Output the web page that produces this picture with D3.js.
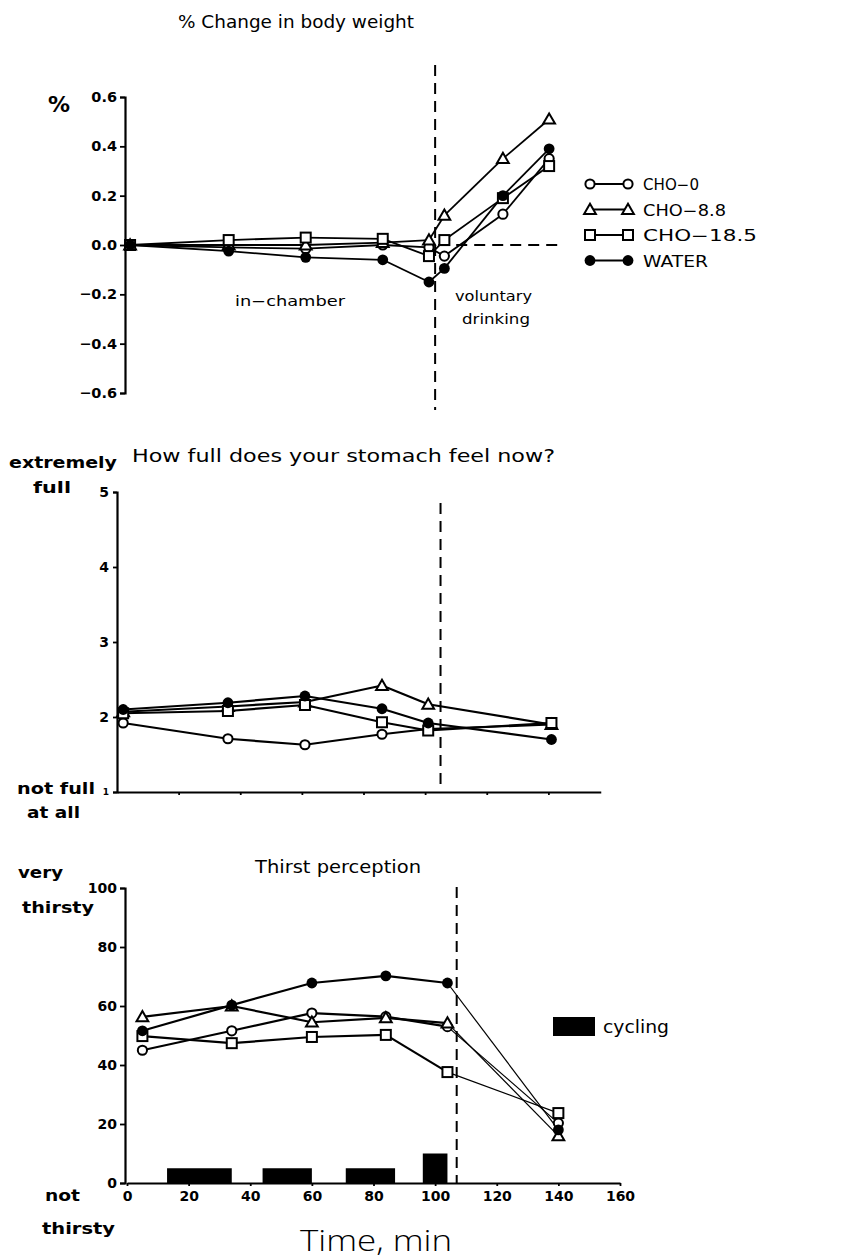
<!DOCTYPE html>
<html>
<head>
<meta charset="utf-8">
<script src="https://cdn.jsdelivr.net/npm/d3@7"></script>
<style>
  html, body { margin: 0; padding: 0; background: #fff; }
  svg { display: block; }
  text { fill: #000; font-family: "DejaVu Sans", sans-serif; }
  .tick text { font-family: "DejaVu Sans", sans-serif; font-weight: bold; }
</style>
</head>
<body>
<script>
// ---- data ----------------------------------------------------------
const seriesNames = ["CHO-0", "CHO-8.8", "CHO-18.5", "WATER"];
const seriesMarks = ["circle", "triangle", "square", "dot"];

// % change in body weight
const weightTimes = [1, 33, 58, 83, 98, 103, 122, 137];
const weightCHO0   = [0, -0.01, -0.015, 0.0, -0.01, -0.045, 0.125, 0.35];
const weightCHO88  = [0, 0.0, 0.0, 0.01, 0.02, 0.12, 0.35, 0.51];
const weightCHO185 = [0, 0.02, 0.03, 0.025, -0.045, 0.02, 0.19, 0.32];
const weightWATER  = [0, -0.025, -0.05, -0.06, -0.15, -0.095, 0.2, 0.39];
const weightTicks  = [-0.6, -0.4, -0.2, 0.0, 0.2, 0.4, 0.6];

// stomach fullness rating (1 = not full at all, 5 = extremely full)
const fullTimes = [2, 36, 61, 86, 101, 141];
const fullCHO0   = [1.92, 1.71, 1.63, 1.77, 1.84, 1.90];
const fullCHO88  = [2.07, 2.14, 2.20, 2.42, 2.17, 1.90];
const fullCHO185 = [2.05, 2.08, 2.16, 1.93, 1.82, 1.92];
const fullWATER  = [2.10, 2.19, 2.28, 2.11, 1.92, 1.70];
const fullTicks  = [1, 2, 3, 4, 5];

// thirst perception (0 = not thirsty, 100 = very thirsty)
const thirstTimes = [5, 34, 60, 84, 104, 140];
const thirstCHO0   = [45, 51.6, 57.6, 56.4, 53, 20.3];
const thirstCHO88  = [56.3, 60, 54.5, 56, 54.2, 16];
const thirstCHO185 = [49.8, 47.4, 49.5, 50.2, 37.6, 23.7];
const thirstWATER  = [51.6, 60.3, 67.8, 70.2, 67.8, 18];
const thirstTicks  = [0, 20, 40, 60, 80, 100];
const timeTicks    = [0, 20, 40, 60, 80, 100, 120, 140, 160];

// cycling bouts: start, end (min), bar height (thirst units)
const cycleStart  = [13, 44, 71, 96];
const cycleEnd    = [34, 60, 87, 104];
const cycleHeight = [5, 5, 5, 10];

// drinking onset (min), drawn as a dashed divider in each panel
const drinkWeight = 100;
const drinkFull   = 105;
const drinkThirst = 107;

// ---- drawing -------------------------------------------------------
const W = 852, H = 1259;
const svg = d3.select("body").append("svg")
  .attr("width", W).attr("height", H)
  .attr("viewBox", `0 0 ${W} ${H}`);
svg.append("rect").attr("width", W).attr("height", H).attr("fill", "#fff");

function drawMarker(g, type, x, y) {
  if (type === "circle") {
    g.append("circle").attr("cx", x).attr("cy", y).attr("r", 4.6)
      .attr("fill", "#fff").attr("stroke", "#000").attr("stroke-width", 2);
  } else if (type === "dot") {
    g.append("circle").attr("cx", x).attr("cy", y).attr("r", 5.4)
      .attr("fill", "#000");
  } else if (type === "square") {
    g.append("rect").attr("x", x - 5).attr("y", y - 5)
      .attr("width", 10).attr("height", 10)
      .attr("fill", "#fff").attr("stroke", "#000").attr("stroke-width", 2);
  } else {
    g.append("path")
      .attr("d", d3.symbol(d3.symbolTriangle, 60)())
      .attr("transform", `translate(${x},${y + 1})`)
      .attr("fill", "#fff").attr("stroke", "#000").attr("stroke-width", 2);
  }
}

function drawSeries(g, xs, ys, times, values, type, widths) {
  const pts = times.map((t, i) => [xs(t), ys(values[i])]);
  for (let i = 0; i < pts.length - 1; i++) {
    g.append("path")
      .attr("d", d3.line()([pts[i], pts[i + 1]]))
      .attr("fill", "none").attr("stroke", "#000")
      .attr("stroke-width", widths(i));
  }
  return pts;
}

function styleAxis(size) {
  return sel => {
    sel.selectAll("path.domain").attr("stroke", "#000").attr("stroke-width", 2.2);
    sel.selectAll(".tick line").attr("stroke", "#000").attr("stroke-width", 1.8);
    sel.selectAll(".tick text").attr("font-size", size).attr("fill", "#000");
  };
}

function dashed(x1, y1, x2, y2) {
  svg.append("line").attr("x1", x1).attr("y1", y1).attr("x2", x2).attr("y2", y2)
    .attr("stroke", "#000").attr("stroke-width", 2)
    .attr("stroke-dasharray", "11,7");
}

function label(txt, x, y, size, opts = {}) {
  const t = svg.append("text").attr("x", x).attr("y", y)
    .attr("font-size", size)
    .attr("text-anchor", opts.anchor || "start")
    .attr("font-weight", opts.weight || "normal")
    .text(txt);
  if (opts.len) t.attr("textLength", opts.len).attr("lengthAdjust", "spacingAndGlyphs");
  if (opts.family) t.style("font-family", opts.family);
  return t;
}

const fmtMinus = v => (v < 0 ? "\u2212" : "") + Math.abs(v).toFixed(1);

// ---------- panel 1: body weight ----------
{
  const x = d3.scaleLinear().domain([0, 160]).range([127, 620]);
  const y = d3.scaleLinear().domain([-0.6, 0.6]).range([393, 97]);
  const g = svg.append("g");

  g.append("g").attr("transform", "translate(125,0)")
    .call(d3.axisLeft(y).tickValues(weightTicks).tickFormat(fmtMinus)
      .tickSizeOuter(5).tickSize(5).tickPadding(3))
    .call(styleAxis(14.5));

  dashed(x(drinkWeight) + 0, 65, x(drinkWeight) + 0, 410);
  dashed(x(101), y(0), 562, y(0));

  const data = [weightCHO0, weightCHO88, weightCHO185, weightWATER];
  const all = data.map((vals, k) =>
    drawSeries(g, x, y, weightTimes, vals, seriesMarks[k], () => 1.8));
  data.forEach((vals, k) => all[k].forEach(p => drawMarker(g, seriesMarks[k], p[0], p[1])));

  label("% Change in body weight", 178, 28, 17.5, { len: 236 });
  label("%", 48, 112, 22, { weight: "bold" });
  label("in\u2212chamber", 235, 306, 14, { len: 110 });
  label("voluntary", 455, 301, 14, { len: 77 });
  label("drinking", 462, 324, 14, { len: 68 });

  // legend
  const lg = svg.append("g");
  seriesNames.forEach((name, k) => {
    const yy = 184 + k * 25.5;
    lg.append("line").attr("x1", 592).attr("x2", 626).attr("y1", yy).attr("y2", yy)
      .attr("stroke", "#000").attr("stroke-width", 2);
    drawMarker(lg, seriesMarks[k], 590, yy);
    drawMarker(lg, seriesMarks[k], 628, yy);
    lg.append("text").attr("x", 643).attr("y", yy + 6).attr("font-size", 15.5)
      .attr("textLength", [56, 83, 114, 65][k]).attr("lengthAdjust", "spacingAndGlyphs")
      .text(name.replace("-", "\u2212"));
  });
}

// ---------- panel 2: stomach fullness ----------
{
  const x = d3.scaleLinear().domain([0, 160]).range([117, 610]);
  const y = d3.scaleLinear().domain([1, 5]).range([792, 492]);
  const g = svg.append("g");

  g.append("g").attr("transform", "translate(117,0)")
    .call(d3.axisLeft(y).tickValues(fullTicks).tickFormat(d3.format("d"))
      .tickSize(4).tickSizeOuter(4).tickPadding(4))
    .call(styleAxis(14));
  g.selectAll(".tick text").filter(d => d === 1).attr("font-size", 9);

  const xAxisScale = d3.scaleLinear().domain([0, 157]).range([x(0), x(157)]);
  g.append("g").attr("transform", "translate(0,792)")
    .call(d3.axisBottom(xAxisScale).tickValues([20, 40, 60, 80, 100, 120, 140])
      .tickFormat("").tickSize(3).tickSizeOuter(0))
    .call(styleAxis(14));

  dashed(x(drinkFull), 503, x(drinkFull), 790);

  const data = [fullCHO0, fullCHO88, fullCHO185, fullWATER];
  const all = data.map((vals, k) =>
    drawSeries(g, x, y, fullTimes, vals, seriesMarks[k], () => 2.2));
  data.forEach((vals, k) => all[k].forEach(p => drawMarker(g, seriesMarks[k], p[0], p[1])));

  label("How full does your stomach feel now?", 132, 462, 18, { len: 423 });
  label("extremely", 9, 468, 15, { len: 108, weight: "bold" });
  label("full", 33, 493, 15, { len: 38, weight: "bold" });
  label("not full", 17, 794, 15, { len: 78, weight: "bold" });
  label("at all", 27, 818, 15, { len: 53, weight: "bold" });
}

// ---------- panel 3: thirst ----------
{
  const x = d3.scaleLinear().domain([0, 160]).range([127, 620]);
  const y = d3.scaleLinear().domain([0, 100]).range([1183, 888]);
  const g = svg.append("g");

  // cycling bouts
  cycleStart.forEach((s, i) => {
    g.append("rect").attr("x", x(s)).attr("width", x(cycleEnd[i]) - x(s))
      .attr("y", y(cycleHeight[i])).attr("height", y(0) - y(cycleHeight[i]))
      .attr("fill", "#000");
  });

  g.append("g").attr("transform", "translate(125,0)")
    .call(d3.axisLeft(y).tickValues(thirstTicks).tickFormat(d3.format("d"))
      .tickSize(5).tickSizeOuter(5).tickPadding(3))
    .call(styleAxis(14));

  g.append("g").attr("transform", "translate(0,1183)")
    .call(d3.axisBottom(x).tickValues(timeTicks).tickFormat(d3.format("d"))
      .tickSize(3).tickSizeOuter(0).tickPadding(5))
    .call(styleAxis(14));

  dashed(x(drinkThirst), 887, x(drinkThirst), 1183);

  const data = [thirstCHO0, thirstCHO88, thirstCHO185, thirstWATER];
  const all = data.map((vals, k) =>
    drawSeries(g, x, y, thirstTimes, vals, seriesMarks[k], i => (i === 4 ? 1.2 : 2.2)));
  data.forEach((vals, k) => all[k].forEach(p => drawMarker(g, seriesMarks[k], p[0], p[1])));

  // cycling key
  g.append("rect").attr("x", 553).attr("y", 1017).attr("width", 42).attr("height", 19)
    .attr("fill", "#000");
  label("cycling", 603, 1033, 18, { len: 66 });

  label("Thirst perception", 255, 873, 18, { len: 166 });
  label("very", 18, 878, 15, { len: 45, weight: "bold" });
  label("thirsty", 22, 913, 15, { len: 72, weight: "bold" });
  label("not", 45, 1201, 15, { len: 35, weight: "bold" });
  label("thirsty", 42, 1234, 15, { len: 73, weight: "bold" });
  label("Time, min", 300, 1251, 30, { len: 152, family: "'Open Sans', sans-serif" })
    .attr("font-weight", 300);
}
</script>
</body>
</html>
